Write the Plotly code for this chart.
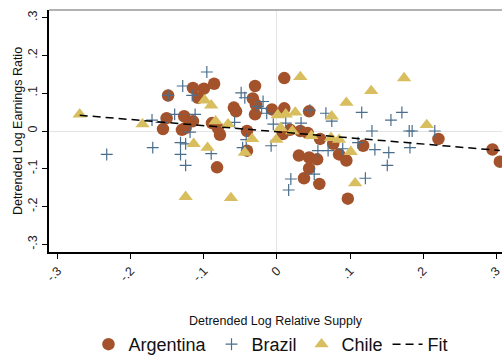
import plotly.graph_objects as go

# Detrended log relative supply (x) and detrended log earnings ratio (y)
arg_x = [-0.156, -0.149, -0.151, -0.127, -0.115, -0.130, -0.125, -0.115, -0.108, -0.100,
         -0.086, -0.089, -0.081, -0.078, -0.082, -0.059, -0.056, -0.033, -0.030, -0.030,
         -0.041, -0.041, -0.007, 0.010, 0.010, 0.018, 0.008, 0.032, 0.042, 0.044,
         0.030, 0.044, 0.055, 0.044, 0.037, 0.058, 0.085, 0.095, 0.097, 0.118,
         0.221, 0.295, 0.305, 0.059, 0.077, -0.029]
arg_y = [0.005, 0.094, 0.034, 0.039, 0.026, 0.003, 0.008, 0.114, 0.088, 0.112,
         0.125, 0.021, 0.008, -0.010, -0.096, 0.062, 0.052, 0.086, 0.119, 0.044,
         0.000, -0.052, 0.057, 0.060, 0.140, 0.003, -0.008, 0.000, -0.005, 0.052,
         -0.065, -0.070, -0.075, -0.099, -0.125, -0.140, -0.062, -0.078, -0.179, -0.039,
         -0.021, -0.049, -0.081, -0.021, -0.034, 0.070]

bra_x = [-0.233, -0.170, -0.171, -0.158, -0.149, -0.140, -0.129, -0.116, -0.112, -0.119,
         -0.132, -0.125, -0.132, -0.125, -0.096, -0.090, -0.058, -0.049, -0.044, -0.047,
         -0.042, -0.027, -0.019, -0.021, -0.014, -0.008, -0.005, 0.012, 0.033, 0.045,
         0.067, 0.075, 0.116, 0.130, 0.156, 0.171, 0.181, 0.185, 0.216, 0.056,
         0.070, 0.090, 0.111, 0.134, 0.153, 0.182, 0.151, 0.051, 0.019, 0.016, 0.121]
bra_y = [-0.062, -0.044, 0.029, 0.023, 0.094, 0.044, 0.119, 0.094, 0.044, -0.003,
         -0.031, -0.034, -0.062, -0.091, 0.156, -0.060, 0.023, 0.101, 0.088, -0.044,
         -0.023, 0.065, 0.078, 0.060, 0.047, -0.039, 0.018, 0.021, 0.021, 0.055,
         0.047, 0.026, 0.049, 0.000, 0.029, 0.049, 0.000, 0.000, 0.000, -0.052,
         -0.052, -0.047, -0.031, -0.049, -0.057, -0.044, -0.091, -0.114, -0.127, -0.156, -0.125]

chl_x = [-0.270, -0.184, -0.099, -0.090, -0.084, -0.067, -0.125, -0.114, -0.095, -0.063,
         -0.044, -0.034, 0.001, 0.012, 0.025, 0.032, 0.005, 0.021, -0.001, 0.047,
         0.074, 0.085, 0.075, 0.095, 0.129, 0.174, 0.205, 0.101, 0.107]
chl_y = [0.044, 0.018, 0.081, 0.068, 0.026, 0.018, -0.174, -0.034, -0.044, -0.177,
         -0.057, -0.021, 0.042, 0.044, 0.049, 0.143, 0.008, 0.000, -0.023, -0.013,
         -0.018, -0.023, 0.039, 0.075, 0.106, 0.140, 0.016, -0.055, -0.138]

# Pooled linear fit
fit_intercept = -0.002
fit_slope = -0.162

tick_vals = [-0.3, -0.2, -0.1, 0.0, 0.1, 0.2, 0.3]
tick_text = ["-.3", "-.2", "-.1", "0", ".1", ".2", ".3"]

all_x = arg_x + bra_x + chl_x
fit_x = [min(all_x), max(all_x)]
fit_y = [fit_intercept + fit_slope * v for v in fit_x]

ARG_COLOR = "#A4522B"
BRA_COLOR = "#4A6E8C"
CHL_COLOR = "#D8BE5E"

fig = go.Figure()
fig.add_trace(go.Scatter(
    x=arg_x, y=arg_y, mode="markers", name="Argentina", cliponaxis=False,
    marker=dict(symbol="circle", size=12.5, color=ARG_COLOR, line=dict(width=0)),
))
fig.add_trace(go.Scatter(
    x=bra_x, y=bra_y, mode="markers", name="Brazil", cliponaxis=False,
    marker=dict(symbol="cross-thin", size=8.5, color=BRA_COLOR,
                line=dict(width=1.2, color=BRA_COLOR)),
))
fig.add_trace(go.Scatter(
    x=chl_x, y=chl_y, mode="markers", name="Chile", cliponaxis=False,
    marker=dict(symbol="triangle-up", size=12.5, color=CHL_COLOR, line=dict(width=0)),
))
fig.add_trace(go.Scatter(
    x=fit_x, y=fit_y, mode="lines", name="Fit",
    line=dict(color="black", width=1.5, dash="8px,5px"),
))

axis_font = dict(family="Liberation Sans, Arial, sans-serif", size=12.5, color="#222")

fig.update_layout(
    width=502, height=363,
    margin=dict(l=49, r=0, t=10, b=107),
    paper_bgcolor="white", plot_bgcolor="white",
    font=dict(family="Liberation Sans, Arial, sans-serif", color="#111"),
    showlegend=True,
    legend=dict(
        orientation="h", x=0.49, xanchor="center", y=-0.385, yanchor="middle",
        font=dict(size=18, color="#111"), itemwidth=30, tracegroupgap=0,
        bgcolor="rgba(0,0,0,0)",
    ),
    xaxis=dict(
        range=[-0.312, 0.308], showgrid=False,
        zeroline=True, zerolinecolor="#e4e4e4", zerolinewidth=1,
        showline=True, linecolor="black", linewidth=1.5,
        ticks="outside", ticklen=5, tickwidth=1, tickcolor="black",
        tickvals=tick_vals, ticktext=tick_text, tickangle=-45, tickfont=axis_font,
        ticklabeloverflow="allow",
        title=dict(text="Detrended Log Relative Supply",
                   font=dict(size=12.5, color="#111"), standoff=33),
    ),
    yaxis=dict(
        range=[-0.32, 0.32], showgrid=False,
        zeroline=True, zerolinecolor="#e4e4e4", zerolinewidth=1,
        showline=True, linecolor="black", linewidth=1.5,
        ticks="outside", ticklen=5, tickwidth=1, tickcolor="black",
        tickvals=tick_vals, ticktext=tick_text, tickangle=-90, tickfont=axis_font,
        title=dict(text="Detrended Log Earnings Ratio",
                   font=dict(size=12.5, color="#111"), standoff=1),
    ),
    shapes=[dict(type="line", xref="paper", yref="paper", x0=0, x1=1, y0=1, y1=1,
                 line=dict(color="#999999", width=1.5))],
)

fig.write_html("out.html")
